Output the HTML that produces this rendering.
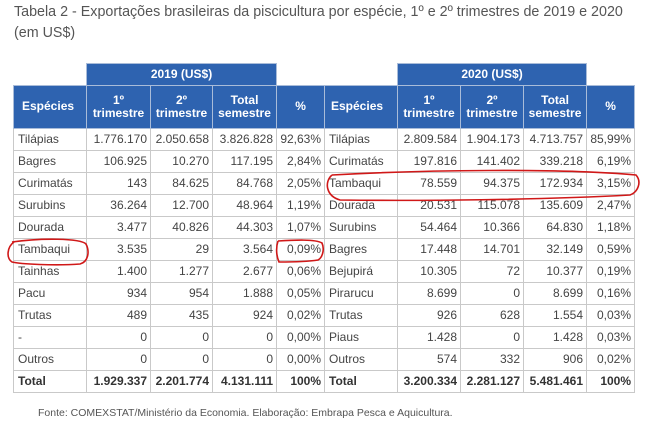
<!DOCTYPE html>
<html><head><meta charset="utf-8"><style>
body{margin:0;width:670px;height:434px;background:#fff;font-family:"Liberation Sans",sans-serif;position:relative;overflow:hidden;color:#444}
.t{position:absolute;left:14px;font-size:14.3px;color:#555;white-space:nowrap}
table{position:absolute;border-collapse:collapse;font-size:12px;table-layout:fixed}
td{border:1px solid #c9c9c9;height:21px;padding:0 3px;text-align:right;white-space:nowrap;overflow:hidden}
td.l{text-align:left;padding-left:4px}
th{background:#2e63b0;color:#fff;border:1px solid #a9bcd9;font-size:12px;line-height:13px;font-weight:bold;padding:0}
th.y{height:20px}
th.h{height:42px}
tr.tot td{font-weight:bold;color:#333}
.fn{position:absolute;left:38px;top:407px;font-size:10.5px;color:#555;white-space:nowrap}
</style></head><body>
<div class="t" style="top:4px">Tabela 2 - Exportações brasileiras da piscicultura por espécie, 1º e 2º trimestres de 2019 e 2020</div>
<div class="t" style="top:25px">(em US$)</div>

<table style="left:13px;top:63px;width:311px">
<colgroup><col style="width:73px"><col style="width:64px"><col style="width:62px"><col style="width:64px"><col style="width:48px"></colgroup>
<tr><td style="border:none;height:20px"></td><th class="y" colspan="3">2019 (US$)</th><td style="border:none"></td></tr>
<tr><th class="h" style="text-align:left;padding-left:8px">Espécies</th><th class="h">1º<br>trimestre</th><th class="h">2º<br>trimestre</th><th class="h">Total<br>semestre</th><th class="h">%</th></tr>
<tr><td class="l">Tilápias</td><td>1.776.170</td><td>2.050.658</td><td>3.826.828</td><td>92,63%</td></tr>
<tr><td class="l">Bagres</td><td>106.925</td><td>10.270</td><td>117.195</td><td>2,84%</td></tr>
<tr><td class="l">Curimatás</td><td>143</td><td>84.625</td><td>84.768</td><td>2,05%</td></tr>
<tr><td class="l">Surubins</td><td>36.264</td><td>12.700</td><td>48.964</td><td>1,19%</td></tr>
<tr><td class="l">Dourada</td><td>3.477</td><td>40.826</td><td>44.303</td><td>1,07%</td></tr>
<tr><td class="l">Tambaqui</td><td>3.535</td><td>29</td><td>3.564</td><td>0,09%</td></tr>
<tr><td class="l">Tainhas</td><td>1.400</td><td>1.277</td><td>2.677</td><td>0,06%</td></tr>
<tr><td class="l">Pacu</td><td>934</td><td>954</td><td>1.888</td><td>0,05%</td></tr>
<tr><td class="l">Trutas</td><td>489</td><td>435</td><td>924</td><td>0,02%</td></tr>
<tr><td class="l">-</td><td>0</td><td>0</td><td>0</td><td>0,00%</td></tr>
<tr><td class="l">Outros</td><td>0</td><td>0</td><td>0</td><td>0,00%</td></tr>
<tr class="tot"><td class="l">Total</td><td>1.929.337</td><td>2.201.774</td><td>4.131.111</td><td>100%</td></tr>
</table>

<table style="left:324px;top:63px;width:310px">
<colgroup><col style="width:73px"><col style="width:63px"><col style="width:63px"><col style="width:63px"><col style="width:48px"></colgroup>
<tr><td style="border:none;height:20px"></td><th class="y" colspan="3">2020 (US$)</th><td style="border:none"></td></tr>
<tr><th class="h" style="text-align:left;padding-left:6px">Espécies</th><th class="h">1º<br>trimestre</th><th class="h">2º<br>trimestre</th><th class="h">Total<br>semestre</th><th class="h">%</th></tr>
<tr><td class="l">Tilápias</td><td>2.809.584</td><td>1.904.173</td><td>4.713.757</td><td>85,99%</td></tr>
<tr><td class="l">Curimatás</td><td>197.816</td><td>141.402</td><td>339.218</td><td>6,19%</td></tr>
<tr><td class="l">Tambaqui</td><td>78.559</td><td>94.375</td><td>172.934</td><td>3,15%</td></tr>
<tr><td class="l">Dourada</td><td>20.531</td><td>115.078</td><td>135.609</td><td>2,47%</td></tr>
<tr><td class="l">Surubins</td><td>54.464</td><td>10.366</td><td>64.830</td><td>1,18%</td></tr>
<tr><td class="l">Bagres</td><td>17.448</td><td>14.701</td><td>32.149</td><td>0,59%</td></tr>
<tr><td class="l">Bejupirá</td><td>10.305</td><td>72</td><td>10.377</td><td>0,19%</td></tr>
<tr><td class="l">Pirarucu</td><td>8.699</td><td>0</td><td>8.699</td><td>0,16%</td></tr>
<tr><td class="l">Trutas</td><td>926</td><td>628</td><td>1.554</td><td>0,03%</td></tr>
<tr><td class="l">Piaus</td><td>1.428</td><td>0</td><td>1.428</td><td>0,03%</td></tr>
<tr><td class="l">Outros</td><td>574</td><td>332</td><td>906</td><td>0,02%</td></tr>
<tr class="tot"><td class="l">Total</td><td>3.200.334</td><td>2.281.127</td><td>5.481.461</td><td>100%</td></tr>
</table>

<svg style="position:absolute;left:0;top:0" width="670" height="434">
<g fill="none" stroke="#d01818" stroke-width="1.6">
<path d="M12,242 C40,238 80,238 86,244 C90,252 88,262 80,264 C55,266 20,264 12,262 C6,258 7,247 14,242"/>
<path d="M278,241 C295,240 315,239 322,243 C325,250 322,258 318,260 C305,262 290,262 279,262 C276,255 276,247 278,241"/>
<path d="M332,175 C420,170 560,168 636,175 C642,182 638,192 630,195 C540,200 420,201 340,200 C326,196 324,182 332,175"/>
</g></svg>
<div class="fn">Fonte: COMEXSTAT/Ministério da Economia. Elaboração: Embrapa Pesca e Aquicultura.</div>
</body></html>
